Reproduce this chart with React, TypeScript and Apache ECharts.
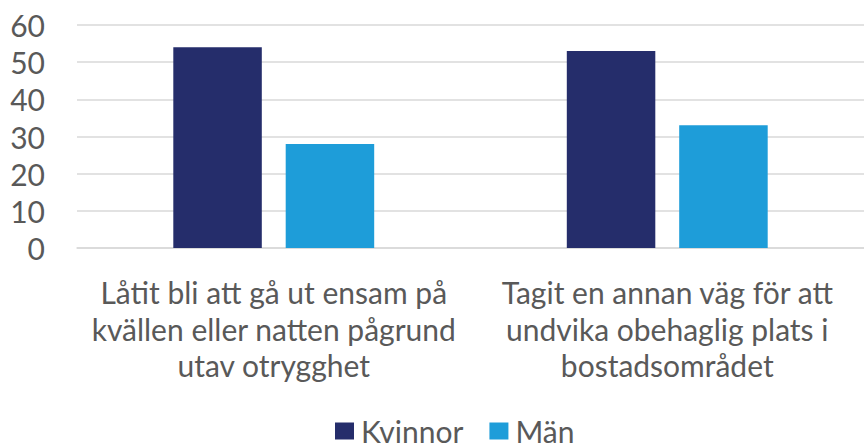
import React, { useEffect, useRef } from "react";
import * as echarts from "echarts";

const categories = [
  "Låtit bli att gå ut ensam på\nkvällen eller natten pågrund\nutav otrygghet",
  "Tagit en annan väg för att\nundvika obehaglig plats i\nbostadsområdet",
];
const kvinnor = [54, 53];
const man = [28, 33];
const seriesNames = ["Kvinnor", "Män"];

const FONT = "Lato";
const TEXT = "#595959";
const FS = 30;

export default function App() {
  const ref = useRef<HTMLDivElement>(null);
  useEffect(() => {
    if (!ref.current) return;
    const chart = echarts.init(ref.current, undefined, { renderer: "svg" });
    chart.setOption({
      animation: false,
      textStyle: { fontFamily: FONT, color: TEXT },
      legend: {
        top: 411,
        left: 330,
        padding: 5,
        itemWidth: 19,
        itemHeight: 17,
        itemGap: 26,
        icon: "rect",
        textStyle: { fontSize: FS, lineHeight: 28, color: TEXT, fontFamily: FONT, padding: [0, 0, 0, 2] },
        data: seriesNames,
      },
      grid: { left: 77, top: 25, width: 791, height: 223 },
      xAxis: {
        type: "category",
        data: categories,
        axisLine: { show: true, lineStyle: { color: "#d9d9d9", width: 1.5 } },
        axisTick: { show: false },
        axisLabel: {
          fontSize: FS,
          lineHeight: 36.5,
          color: TEXT,
          fontFamily: FONT,
          margin: 26,
          interval: 0,
        },
      },
      yAxis: {
        type: "value",
        min: 0,
        max: 60,
        interval: 10,
        axisLine: { show: false },
        axisTick: { show: false },
        splitLine: { lineStyle: { color: "#d9d9d9", width: 1.5 } },
        axisLabel: { fontSize: FS, color: TEXT, fontFamily: FONT, margin: 32 },
      },
      series: [
        {
          name: seriesNames[0],
          type: "bar",
          data: kvinnor,
          barWidth: 88.5,
          barGap: "27%",
          itemStyle: { color: "#252D6B" },
        },
        {
          name: seriesNames[1],
          type: "bar",
          data: man,
          barWidth: 88.5,
          itemStyle: { color: "#1E9DD9" },
        },
      ],
    });
    return () => chart.dispose();
  }, []);
  return <div ref={ref} style={{ width: 864, height: 448, position: "absolute", left: 0, top: 0 }} />;
}
